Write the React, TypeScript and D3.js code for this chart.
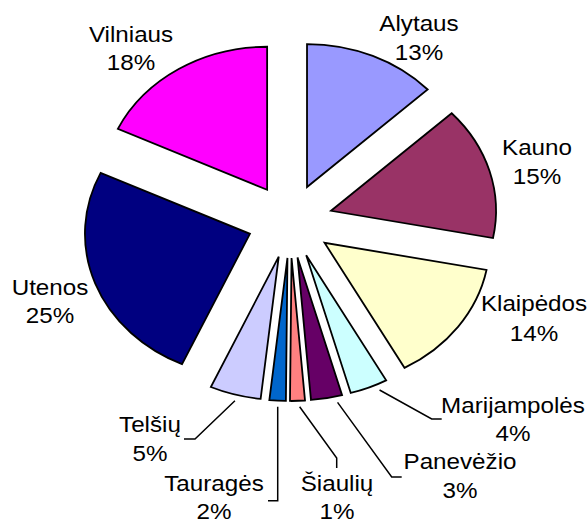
import React from 'react';
import * as d3 from 'd3';

// ---- data ----
const categories = ['Alytaus', 'Kauno', 'Klaipėdos', 'Marijampolės', 'Panevėžio', 'Šiaulių', 'Tauragės', 'Telšių', 'Utenos', 'Vilniaus'];
// shares (labels show rounded values)
const values = [13.05, 15, 13.9, 3.7, 3.05, 1.45, 1.6, 5.0, 25.25, 18];
const percentLabels = ['13%', '15%', '14%', '4%', '3%', '1%', '2%', '5%', '25%', '18%'];
const colors = ['#9999FF', '#993366', '#FFFFCC', '#CCFFFF', '#660066', '#FF8080', '#0066CC', '#CCCCFF', '#000080', '#FF00FF'];

// ---- layout ----
const W = 588;
const H = 522;
const SX = 165 / 143; // horizontal stretch of the picture
const CX = 290;
const CY = 221;
const R = 143;
const EXPLODE = 37;
const FONT = 22;
const TEXT_SX = 1.1;

const labelLayout = [
  { x: 419, y: 31, gap: 28.5 },
  { x: 537, y: 155, gap: 28.5 },
  { x: 534, y: 311, gap: 29.5 },
  { x: 513, y: 413, gap: 27.5 },
  { x: 460, y: 469, gap: 29 },
  { x: 337, y: 491, gap: 27.5 },
  { x: 214, y: 491, gap: 27.5 },
  { x: 150, y: 432, gap: 29 },
  { x: 50, y: 295, gap: 28 },
  { x: 131, y: 41.5, gap: 28.5 },
];

type Leader = { frac: number; elbow: [number, number] | null; end: [number, number] } | null;
const leaderLayout: Leader[] = [
  null,
  null,
  null,
  { frac: 0.28, elbow: [431.7, 419], end: [441.7, 419] },
  { frac: 0.2, elbow: [391.7, 477], end: [401.7, 477] },
  { frac: 0.38, elbow: [336.7, 458], end: [336.7, 468] },
  { frac: 0.47, elbow: null, end: [268, 500.7] },
  { frac: 0.47, elbow: [195, 439], end: [184, 439] },
  null,
  null,
];

export default function App() {
  const pie = d3
    .pie<number>()
    .sort(null)
    .value((v) => v)
    .startAngle(0)
    .endAngle(2 * Math.PI);
  const arcs = pie(values);
  const arc = d3.arc<d3.PieArcDatum<number>>().innerRadius(0).outerRadius(R);
  const font = "Arial, 'Liberation Sans', sans-serif";

  return (
    <svg width={W} height={H} style={{ position: 'absolute', left: 0, top: 0, background: '#fff' }}>
      <rect width={W} height={H} fill="#fff" />
      <g transform={`translate(${CX},${CY}) scale(${SX},1)`}>
        {arcs.map((a, i) => {
          const mid = (a.startAngle + a.endAngle) / 2;
          const ox = EXPLODE * Math.sin(mid);
          const oy = -EXPLODE * Math.cos(mid);
          return (
            <path
              key={i}
              d={arc(a) || ''}
              transform={`translate(${ox},${oy})`}
              fill={colors[i]}
              stroke="#000"
              strokeWidth={1.8}
              strokeLinejoin="miter"
              vectorEffect="non-scaling-stroke"
            />
          );
        })}
      </g>
      {arcs.map((a, i) => {
        const L = leaderLayout[i];
        if (!L) return null;
        const mid = (a.startAngle + a.endAngle) / 2;
        const ox = EXPLODE * Math.sin(mid);
        const oy = -EXPLODE * Math.cos(mid);
        const th = a.startAngle + L.frac * (a.endAngle - a.startAngle);
        const rho = R + 6;
        const sx = CX + SX * (ox + rho * Math.sin(th));
        const sy = CY + oy - rho * Math.cos(th);
        const elbow = L.elbow ? L.elbow : [sx, L.end[1]];
        const pts = [[sx, sy], elbow, L.end];
        return (
          <polyline
            key={'l' + i}
            points={pts.map((p) => p.join(',')).join(' ')}
            fill="none"
            stroke="#000"
            strokeWidth={1.5}
          />
        );
      })}
      {categories.map((c, i) => {
        const p = labelLayout[i];
        return (
          <g key={'t' + i} fontFamily={font} fontSize={FONT} fill="#000" textAnchor="middle">
            <text transform={`translate(${p.x},${p.y}) scale(${TEXT_SX},1)`}>{c}</text>
            <text transform={`translate(${p.x},${p.y + p.gap}) scale(${TEXT_SX},1)`}>{percentLabels[i]}</text>
          </g>
        );
      })}
    </svg>
  );
}
